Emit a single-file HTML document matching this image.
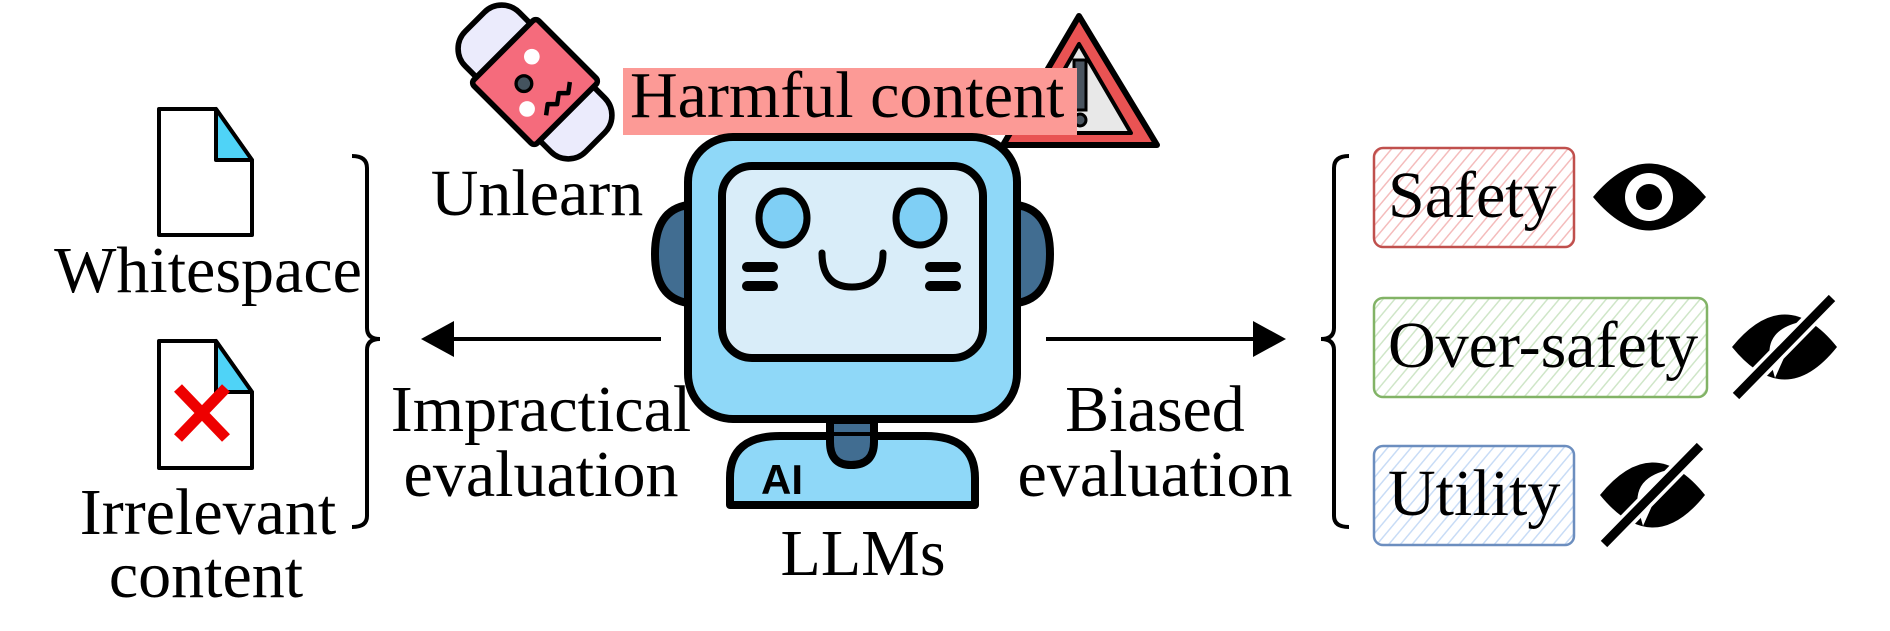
<!DOCTYPE html>
<html><head><meta charset="utf-8"><style>
html,body{margin:0;padding:0;background:#fff;width:1890px;height:631px;overflow:hidden}
svg text{font-family:"Liberation Serif",serif;font-size:66px;fill:#000}
</style></head><body>
<svg width="1890" height="631" viewBox="0 0 1890 631" xmlns="http://www.w3.org/2000/svg">
<defs>
<pattern id="hr" width="9" height="9" patternUnits="userSpaceOnUse" patternTransform="rotate(40)"><rect width="9" height="9" fill="#fff"/><line x1="0" y1="0" x2="0" y2="9" stroke="#f4bcbc" stroke-width="3"/></pattern>
<pattern id="hg" width="9" height="9" patternUnits="userSpaceOnUse" patternTransform="rotate(40)"><rect width="9" height="9" fill="#fff"/><line x1="0" y1="0" x2="0" y2="9" stroke="#cfe6c8" stroke-width="3"/></pattern>
<pattern id="hb" width="9" height="9" patternUnits="userSpaceOnUse" patternTransform="rotate(40)"><rect width="9" height="9" fill="#fff"/><line x1="0" y1="0" x2="0" y2="9" stroke="#c8dcf6" stroke-width="3"/></pattern>
</defs>

<!-- docs -->
<g stroke="#000" stroke-width="4" stroke-linejoin="round">
<path d="M159 109 H216 L252 160 V235 H159 Z" fill="#fff"/>
<path d="M216 109 V160 H252 Z" fill="#4fd3f7"/>
<path d="M159 341 H216 L252 392 V468 H159 Z" fill="#fff"/>
<path d="M216 341 V392 H252 Z" fill="#4fd3f7"/>
</g>
<g stroke="#e00" stroke-width="11"><line x1="178" y1="388" x2="226" y2="438"/><line x1="226" y1="388" x2="178" y2="438"/></g>
<text x="208" y="292" text-anchor="middle">Whitespace</text>
<text x="208" y="534" text-anchor="middle">Irrelevant</text>
<text x="206" y="597" text-anchor="middle">content</text>

<!-- left brace -->
<path d="M352 156 Q367 156 367 168 V328 Q367 339 380 339 Q367 339 367 350 V516 Q367 527 352 527" fill="none" stroke="#000" stroke-width="4"/>

<!-- left arrow -->
<line x1="445" y1="339" x2="661" y2="339" stroke="#000" stroke-width="4"/>
<path d="M421 339 L454 321 L454 357 Z" fill="#000"/>
<text x="541" y="431" text-anchor="middle">Impractical</text>
<text x="541" y="496" text-anchor="middle">evaluation</text>

<!-- eraser -->
<g transform="translate(535,82) rotate(-45) scale(1.12)" stroke="#000" stroke-width="5" stroke-linejoin="round">
<rect x="-34" y="-76" width="68" height="152" rx="22" fill="#ebebfc"/>
<rect x="-41" y="-40" width="82" height="80" rx="4" fill="#f56b7c"/>
<circle cx="-8" cy="-6" r="7" fill="#44535e" stroke-width="3"/>
<circle cx="-22" cy="12" r="7" fill="#fff" stroke="none"/>
<circle cx="14" cy="-18" r="7" fill="#fff" stroke="none"/>
<path d="M-14 28 l8 -6 l6 6 l8 -6 l6 6 l8 -6" fill="none" stroke-width="4"/>
</g>
<text x="537" y="215" text-anchor="middle">Unlearn</text>

<!-- warning triangle -->
<path d="M1079 16 L1003 145 L1157 145 Z" fill="#e95353" stroke="#000" stroke-width="6" stroke-linejoin="round"/>
<path d="M1079 44 L1028 133 L1131 133 Z" fill="#e8e8e8" stroke="#000" stroke-width="4" stroke-linejoin="round"/>
<rect x="1074" y="60" width="12" height="50" fill="#4a5560" stroke="#000" stroke-width="3"/>
<circle cx="1080" cy="120" r="6" fill="#4a5560" stroke="#000" stroke-width="3"/>
<rect x="623" y="68" width="454" height="67" fill="#fc9a96"/>
<text x="630" y="117">Harmful content</text>

<!-- robot -->
<g stroke="#000" stroke-width="8" stroke-linejoin="round" stroke-linecap="round">
<path d="M688 205 Q655 210 655 254 Q655 298 688 303 Z" fill="#416d91"/>
<path d="M1017 205 Q1050 210 1050 254 Q1050 298 1017 303 Z" fill="#416d91"/>
<path d="M830 420 V442 Q830 465 851 465 Q874 465 874 442 V420 Z" fill="#416d91"/>
<path d="M730 505 V478 Q730 436 780 436 H925 Q975 436 975 478 V505 Z" fill="#8fd8f8"/>
<path d="M830 436 V442 Q830 465 851 465 Q874 465 874 442 V436" fill="#416d91"/>
<rect x="688" y="137" width="329" height="282" rx="45" fill="#8fd8f8"/>
<rect x="722" y="166" width="261" height="192" rx="30" fill="#d9edf9"/>
<ellipse cx="783" cy="218" rx="24" ry="27" fill="#7fcff5" stroke-width="7"/>
<ellipse cx="920" cy="218" rx="24" ry="27" fill="#7fcff5" stroke-width="7"/>
<path d="M822 253 Q822 287 852 287 Q883 287 883 253" fill="none" stroke-width="7"/>
<path d="M747 267 H773 M747 286 H773 M930 267 H956 M930 286 H956" stroke-width="10"/>
</g>
<text x="782" y="494" text-anchor="middle" style="font-family:'Liberation Sans',sans-serif;font-weight:bold;font-size:42px">AI</text>
<text x="863" y="575" text-anchor="middle">LLMs</text>

<!-- right arrow -->
<line x1="1046" y1="339" x2="1262" y2="339" stroke="#000" stroke-width="4"/>
<path d="M1286 339 L1253 321 L1253 357 Z" fill="#000"/>
<text x="1155" y="431" text-anchor="middle">Biased</text>
<text x="1155" y="496" text-anchor="middle">evaluation</text>

<!-- right brace -->
<path d="M1349 156 Q1334 156 1334 168 V328 Q1334 339 1321 339 Q1334 339 1334 350 V516 Q1334 527 1349 527" fill="none" stroke="#000" stroke-width="4"/>

<!-- boxes -->
<rect x="1374" y="148" width="200" height="99" rx="9" fill="url(#hr)" stroke="#c0504d" stroke-width="2.5"/>
<text x="1388" y="217">Safety</text>
<rect x="1374" y="298" width="333" height="99" rx="9" fill="url(#hg)" stroke="#82b366" stroke-width="2.5"/>
<text x="1388" y="367">Over-safety</text>
<rect x="1374" y="446" width="200" height="99" rx="9" fill="url(#hb)" stroke="#6c8ebf" stroke-width="2.5"/>
<text x="1388" y="515">Utility</text>

<!-- eyes -->
<path d="M1593 197 Q1649 130 1706 197 Q1649 264 1593 197 Z" fill="#000"/>
<circle cx="1649" cy="197" r="24" fill="#fff"/>
<circle cx="1649" cy="197" r="13" fill="#000"/>

<g>
<path d="M1732 347 Q1785 282 1837 347 Q1785 412 1732 347 Z" fill="#000"/>
<path d="M1770 360 Q1765 330 1800 322 L1775 378 Z" fill="#fff"/>
<line x1="1736" y1="396" x2="1832" y2="298" stroke="#fff" stroke-width="16"/>
<line x1="1736" y1="396" x2="1832" y2="298" stroke="#000" stroke-width="9"/>
</g>
<g>
<path d="M1600 495 Q1653 430 1705 495 Q1653 560 1600 495 Z" fill="#000"/>
<path d="M1638 508 Q1633 478 1668 470 L1643 526 Z" fill="#fff"/>
<line x1="1604" y1="544" x2="1700" y2="446" stroke="#fff" stroke-width="16"/>
<line x1="1604" y1="544" x2="1700" y2="446" stroke="#000" stroke-width="9"/>
</g>
</svg>
</body></html>
